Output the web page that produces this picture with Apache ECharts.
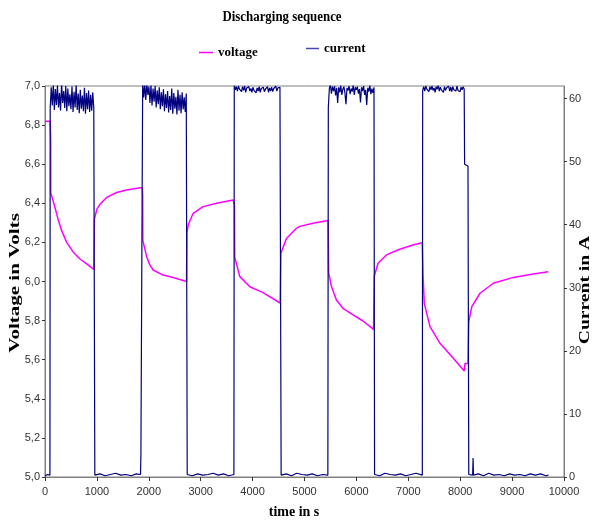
<!DOCTYPE html>
<html>
<head>
<meta charset="utf-8">
<title>Discharging sequence</title>
<script src="https://cdn.jsdelivr.net/npm/echarts@6/dist/echarts.min.js"></script>
<style>
  html, body { margin: 0; padding: 0; background: #fff; }
  #chart { width: 595px; height: 525px; }
</style>
</head>
<body>
<div id="chart"></div>
<script>
// ---- Voltage (V) as [time s, volts], one list per phase ----
const vStart = [[0, 6.82], [100, 6.82], [110, 6.72]];
const vDischarge1 = [[110, 6.456], [180, 6.39], [256, 6.315], [321, 6.26], [418, 6.20], [545, 6.15], [674, 6.115], [803, 6.09], [940, 6.062]];
const vRest1 = [[952, 6.32], [1000, 6.37], [1059, 6.395], [1188, 6.43], [1380, 6.455], [1573, 6.468], [1829, 6.48], [1875, 6.48], [1882, 6.44]];
const vDischarge2 = [[1885, 6.21], [1958, 6.127], [2020, 6.085], [2085, 6.059], [2278, 6.033], [2470, 6.02], [2728, 6.0]];
const vRest2 = [[2735, 6.25], [2760, 6.29], [2855, 6.349], [3047, 6.383], [3305, 6.40], [3625, 6.417], [3645, 6.42], [3650, 6.39]];
const vDischarge3 = [[3655, 6.124], [3754, 6.025], [3947, 5.973], [4203, 5.943], [4530, 5.89]];
const vRest3 = [[4545, 6.144], [4652, 6.22], [4845, 6.272], [4909, 6.282], [5165, 6.298], [5454, 6.312]];
const vDischarge4 = [[5465, 6.047], [5519, 5.974], [5615, 5.905], [5742, 5.863], [5935, 5.829], [6127, 5.798], [6330, 5.755]];
const vRest4 = [[6345, 6.028], [6417, 6.093], [6578, 6.136], [6834, 6.165], [7090, 6.187], [7270, 6.198]];
const vDischarge5 = [[7285, 6.021], [7308, 5.888], [7418, 5.769], [7611, 5.684], [7867, 5.607], [8079, 5.542], [8092, 5.58], [8150, 5.58]];
const vRest5 = [[8165, 5.794], [8223, 5.872], [8382, 5.94], [8638, 5.991], [9023, 6.021], [9408, 6.038], [9697, 6.05]];

// ---- Current (A): switching times and sampled load current ----
const switchOn = [100, 1882, 3647, 5459, 7277];
const switchOff = [950, 2730, 4541, 6339, 8156];
const sampleStep = 20; // seconds between load-current samples

const load1 = [58.4, 61.8, 58.9, 62.3, 58.2, 61.5, 59.0, 62.1, 58.6, 60.9, 58.1, 62.4, 59.3, 61.2, 58.5, 62.0, 58.0, 61.6, 58.8, 60.7, 58.3, 61.9, 57.9, 61.1, 58.6, 62.2, 58.2, 60.8, 57.7, 61.4, 58.4, 60.5, 58.0, 61.7, 57.6, 60.9, 58.3, 61.3, 57.9, 60.6, 58.1, 61.0, 58.5];
const load2 = [62.5, 60.2, 62.3, 59.8, 62.4, 60.6, 61.9, 59.3, 62.2, 58.9, 61.6, 59.5, 62.0, 58.6, 61.3, 59.1, 61.8, 58.3, 61.0, 58.8, 61.5, 58.0, 60.7, 58.5, 61.2, 57.8, 60.4, 58.2, 61.6, 57.6, 60.9, 58.4, 60.3, 57.5, 61.4, 58.1, 60.6, 57.7, 61.0, 58.3, 60.2, 57.9, 60.8];
const load3 = [62.1, 61.4, 61.9, 61.2, 62.0, 61.5, 61.8, 61.1, 61.9, 61.3, 62.0, 61.0, 61.7, 61.4, 61.9, 61.2, 61.6, 61.0, 61.8, 61.3, 61.5, 60.9, 61.7, 61.2, 61.9, 61.0, 61.6, 61.3, 61.8, 61.1, 61.5, 61.4, 61.9, 61.0, 61.7, 61.2, 61.8, 61.1, 61.6, 61.3, 62.0, 61.2, 61.7, 61.4, 61.8];
const load4 = [58.6, 61.6, 62.2, 60.8, 61.9, 61.2, 62.0, 60.5, 61.7, 59.3, 61.8, 61.0, 62.1, 60.6, 61.5, 61.9, 60.9, 59.1, 61.7, 61.3, 62.0, 60.7, 61.6, 61.1, 62.2, 60.6, 61.8, 61.4, 61.9, 60.8, 61.5, 59.4, 61.8, 61.2, 62.0, 60.6, 61.4, 59.0, 61.7, 61.1, 62.1, 60.7, 61.6, 60.9, 61.8];
const load5 = [61.3, 61.9, 61.2, 62.0, 61.5, 61.8, 61.1, 61.9, 61.4, 62.0, 61.3, 61.7, 61.0, 61.9, 61.5, 62.1, 61.2, 61.8, 61.4, 61.6, 61.0, 61.9, 61.3, 61.7, 61.5, 62.0, 61.2, 61.8, 61.1, 61.9, 61.4, 61.7, 61.2, 62.0, 61.3, 61.6, 61.1, 61.8, 61.4, 61.9, 61.5];
const load5Tail = [[8085, 49.6], [8150, 49.3]];

// rest-phase current as [time s, amps]
const rest0 = [[0, 0.2], [50, 0.4], [95, 0.3]];
const rest1 = [[960, 0.3], [1060, 0.5], [1160, 0.2], [1260, 0.4], [1360, 0.6], [1460, 0.3], [1560, 0.4], [1660, 0.2], [1760, 0.5], [1840, 0.4], [1848, 3.5], [1880, 3.6]];
const rest2 = [[2740, 0.4], [2840, 0.2], [2940, 0.5], [3040, 0.3], [3140, 0.4], [3240, 0.6], [3340, 0.3], [3440, 0.5], [3540, 0.2], [3640, 0.4]];
const rest3 = [[4550, 0.3], [4650, 0.5], [4750, 0.2], [4850, 0.6], [4950, 0.4], [5050, 0.3], [5150, 0.5], [5250, 0.2], [5350, 0.4], [5450, 0.3]];
const rest4 = [[6350, 0.4], [6450, 0.2], [6550, 0.6], [6650, 0.4], [6750, 0.3], [6850, 0.5], [6950, 0.2], [7050, 0.4], [7150, 0.6], [7270, 0.3]];
const rest5 = [[8165, 0.4], [8200, 0.2], [8240, 0.3], [8248, 3.0], [8256, 0.3], [8350, 0.5], [8450, 0.2], [8550, 0.6], [8650, 0.3], [8750, 0.4], [8850, 0.2], [8950, 0.5], [9050, 0.3], [9150, 0.4], [9250, 0.2], [9350, 0.5], [9450, 0.3], [9550, 0.5], [9650, 0.2], [9700, 0.3]];

// ---- Axis ticks ----
const timeTicks = { min: 0, max: 10000, step: 1000 };
const voltTicks = { min: 5, max: 7, step: 0.2 };
const ampTicks = { min: 0, max: 62, step: 10 };

// assemble the voltage trace
const voltage = [].concat(vStart, vDischarge1, vRest1, vDischarge2, vRest2, vDischarge3, vRest3, vDischarge4, vRest4, vDischarge5, vRest5);

// assemble the current trace: rest, load phase, rest ...
const loads = [load1, load2, load3, load4, load5];
const rests = [rest0, rest1, rest2, rest3, rest4, rest5];
const current = [];
for (let k = 0; k < loads.length; k++) {
  rests[k].forEach(p => current.push(p));
  loads[k].forEach((a, i) => current.push([switchOn[k] + i * sampleStep, a]));
  if (k === loads.length - 1) load5Tail.forEach(p => current.push(p));
  current.push([switchOff[k], current[current.length - 1][1]]);
}
rests[5].forEach(p => current.push(p));

const serif = "'Liberation Serif', 'Times New Roman', serif";
const narrow = "'Liberation Sans Narrow', 'Arial Narrow', 'Liberation Sans', sans-serif";
const axisGrey = '#808080';
const labelStyle = { color: '#333', fontFamily: narrow, fontSize: 11 };

const chart = echarts.init(document.getElementById('chart'), null, { renderer: 'canvas' });
chart.setOption({
  animation: false,
  backgroundColor: '#fff',
  grid: { left: 45, right: 31, top: 86, bottom: 48, show: true, borderColor: axisGrey, borderWidth: 1 },
  legend: [
    { data: ['voltage'], left: 194, top: 41, icon: 'rect', itemWidth: 14, itemHeight: 1.5, itemGap: 6,
      textStyle: { fontFamily: serif, fontWeight: 'bold', fontSize: 13, color: '#000' } },
    { data: ['current'], left: 301, top: 37, icon: 'rect', itemWidth: 13, itemHeight: 1.5, itemGap: 6,
      textStyle: { fontFamily: serif, fontWeight: 'bold', fontSize: 13, color: '#000' } }
  ],
  xAxis: {
    type: 'value', min: timeTicks.min, max: timeTicks.max, interval: timeTicks.step,
    axisLine: { show: true, onZero: false, lineStyle: { color: axisGrey } },
    axisTick: { show: true, length: 4, lineStyle: { color: '#333' } },
    axisLabel: Object.assign({ margin: 9, formatter: v => String(v) }, labelStyle),
    splitLine: { show: false }
  },
  yAxis: [
    {
      type: 'value', position: 'left', min: voltTicks.min, max: voltTicks.max, interval: voltTicks.step,
      axisLine: { show: true, onZero: false, lineStyle: { color: axisGrey } },
      axisTick: { show: true, length: 3, lineStyle: { color: '#333' } },
      axisLabel: Object.assign({ margin: 5, formatter: v => v.toFixed(1).replace('.', ',') }, labelStyle),
      splitLine: { show: false }
    },
    {
      type: 'value', position: 'right', min: ampTicks.min, max: ampTicks.max, interval: ampTicks.step,
      axisLine: { show: true, onZero: false, lineStyle: { color: axisGrey } },
      axisTick: { show: true, length: 3, lineStyle: { color: '#333' } },
      axisLabel: Object.assign({ margin: 5, showMaxLabel: false }, labelStyle),
      splitLine: { show: false }
    }
  ],
  graphic: [
    { type: 'text', x: 282, y: 17, scaleX: 0.92,
      style: { text: 'Discharging sequence', align: 'center', verticalAlign: 'middle',
               font: 'bold 14px ' + serif, fill: '#000' } },
    { type: 'text', x: 15, y: 283, rotation: Math.PI / 2, scaleX: 1.5,
      style: { text: 'Voltage in Volts', align: 'center', verticalAlign: 'middle', font: 'bold 14px ' + serif, fill: '#000' } },
    { type: 'text', x: 585, y: 290, rotation: Math.PI / 2, scaleX: 1.4,
      style: { text: 'Current in A', align: 'center', verticalAlign: 'middle', font: 'bold 14px ' + serif, fill: '#000' } },
    { type: 'text', x: 294, y: 512,
      style: { text: 'time in s', align: 'center', verticalAlign: 'middle', font: 'bold 14px ' + serif, fill: '#000' } }
  ],
  series: [
    { name: 'voltage', type: 'line', yAxisIndex: 0, data: voltage, showSymbol: false, symbol: 'none',
      lineStyle: { color: '#ff00ff', width: 1.5 }, itemStyle: { color: '#ff00ff' }, z: 2 },
    { name: 'current', type: 'line', yAxisIndex: 1, data: current, showSymbol: false, symbol: 'none',
      lineStyle: { color: '#000080', width: 1.2 }, itemStyle: { color: '#4848b0' }, z: 3 }
  ]
});
</script>
</body>
</html>
